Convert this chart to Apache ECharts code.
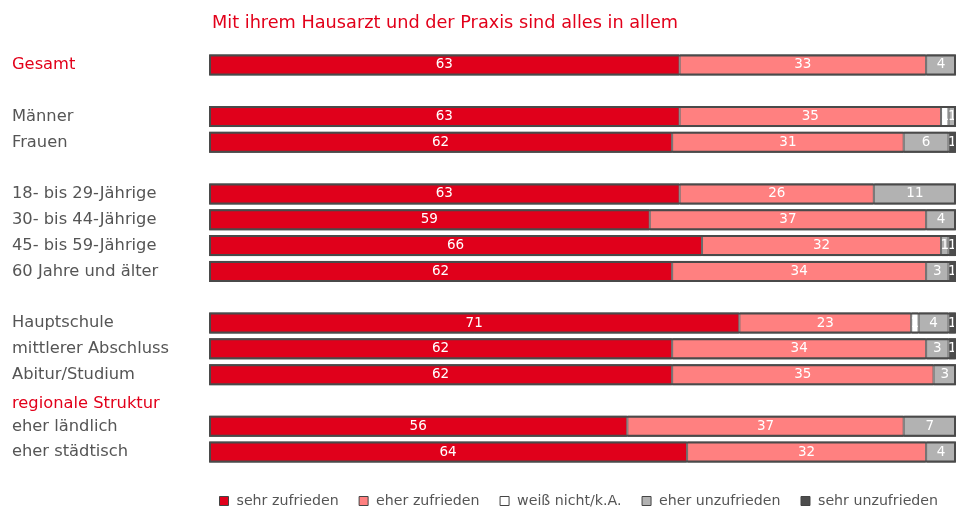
<!DOCTYPE html>
<html><head><meta charset="utf-8">
<script src="https://cdn.jsdelivr.net/npm/echarts@6/dist/echarts.min.js"></script>
<style>html,body{margin:0;padding:0;background:#fff}#c{width:957px;height:510px}</style>
</head><body><div id="c"></div>
<script>
const categories = ['Gesamt','', 'Männer','Frauen','', '18- bis 29-Jährige','30- bis 44-Jährige','45- bis 59-Jährige','60 Jahre und älter','', 'Hauptschule','mittlerer Abschluss','Abitur/Studium','regionale Struktur','eher ländlich','eher städtisch'];
const redLabels = ['Gesamt','regionale Struktur'];
const seriesNames = ['sehr zufrieden','eher zufrieden','weiß nicht/k.A.','eher unzufrieden','sehr unzufrieden'];
const sehrZufrieden   = [63,null,63,62,null,63,59,66,62,null,71,62,62,null,56,64];
const eherZufrieden   = [33,null,35,31,null,26,37,32,34,null,23,34,35,null,37,32];
const weissNicht      = [null,null,1,null,null,null,null,null,null,null,1,null,null,null,null,null];
const eherUnzufrieden = [4,null,1,6,null,11,4,1,3,null,4,3,3,null,7,4];
const sehrUnzufrieden = [null,null,null,1,null,null,null,1,1,null,1,1,null,null,null,null];
const colors = ['#e0001b','#ff8080','#ffffff','#b2b2b2','#4d4d4d'];
const font = 'DejaVu Sans';
const values = [sehrZufrieden,eherZufrieden,weissNicht,eherUnzufrieden,sehrUnzufrieden];
const totals = categories.map((c,i)=>{let s=0,has=false;values.forEach(v=>{if(v[i]!=null){s+=v[i];has=true;}});return has?s:null;});

const series = values.map((v,k)=>({
  name: seriesNames[k], type:'bar', stack:'a', data:v, barWidth:21, barGap:'-100%',
  itemStyle:{color:colors[k], borderColor:'#6a6a6a', borderWidth:1},
  label:{show:true, position:'inside', color:'#fff', fontFamily:font, fontSize:13.5,
    formatter:p=>p.value==null?'':String(p.value)}
}));
series.push({
  name:'outline', type:'bar', data:totals, barWidth:21, barGap:'-100%', silent:true, z:5,
  itemStyle:{color:'rgba(0,0,0,0)', borderColor:'#4a4a4a', borderWidth:2},
  label:{show:false}
});

const chart = echarts.init(document.getElementById('c'));
chart.setOption({
  animation:false,
  title:{text:'Mit ihrem Hausarzt und der Praxis sind alles in allem', left:207, top:9,
    textStyle:{color:'#e2001a', fontFamily:font, fontSize:17.7, fontWeight:'normal'}},
  legend:{data:seriesNames, top:489, left:214, itemWidth:9, itemHeight:9, itemGap:20,
    icon:'rect',
    itemStyle:{borderColor:'#444', borderWidth:1},
    textStyle:{color:'#555', fontFamily:font, fontSize:14.2, padding:[0,0,0,3]}},
  grid:{left:209, right:1, top:52, height:413},
  xAxis:{type:'value', min:0, max:100, show:false},
  yAxis:{type:'category', data:categories, inverse:true,
    axisLine:{show:false}, axisTick:{show:false},
    axisLabel:{align:'left', margin:197, fontFamily:font, fontSize:16.3,
      formatter:v=>v==='regionale Struktur'?'{r|'+v+'}':v,
      rich:{r:{color:'#e2001a', fontFamily:font, fontSize:16.3, padding:[6,0,0,0]}},
      color:(v)=>redLabels.includes(v)?'#e2001a':'#555'}},
  series:series
});
</script></body></html>
